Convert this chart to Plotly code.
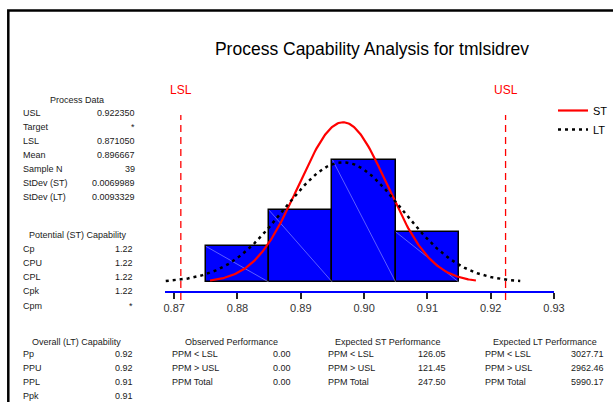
import numpy as np
import plotly.graph_objects as go

# ---------------- data ----------------
bin_centers = [0.88, 0.89, 0.90, 0.91]
bin_counts = [5, 10, 17, 7]
bin_width = 0.01

LSL = 0.871050
USL = 0.922350
mean = 0.896667
n_samples = 39
sd_st = 0.0069989
sd_lt = 0.0093329

x_ticks = [0.87, 0.88, 0.89, 0.90, 0.91, 0.92, 0.93]

process_labels = ["USL", "Target", "LSL", "Mean", "Sample N", "StDev (ST)", "StDev (LT)"]
process_values = ["0.922350", "*", "0.871050", "0.896667", "39", "0.0069989", "0.0093329"]

potential_labels = ["Cp", "CPU", "CPL", "Cpk", "Cpm"]
potential_values = ["1.22", "1.22", "1.22", "1.22", "*"]

overall_labels = ["Pp", "PPU", "PPL", "Ppk"]
overall_values = ["0.92", "0.92", "0.91", "0.91"]

observed_labels = ["PPM < LSL", "PPM > USL", "PPM Total"]
observed_values = ["0.00", "0.00", "0.00"]

exp_st_labels = ["PPM < LSL", "PPM > USL", "PPM Total"]
exp_st_values = ["126.05", "121.45", "247.50"]

exp_lt_labels = ["PPM < LSL", "PPM > USL", "PPM Total"]
exp_lt_values = ["3027.71", "2962.46", "5990.17"]

# ---------------- layout geometry (pixels) ----------------
W, H = 613, 402
ML, MR, MT, MB = 165, 59, 100, 111
PW = W - ML - MR
PH = H - MT - MB
FONT = "Liberation Sans, Arial, sans-serif"


def px(x):
    return (x - ML) / PW


def py(y):
    return (H - MB - y) / PH


def norm_curve(mu, sd):
    xs = np.linspace(mu - 3 * sd, mu + 3 * sd, 241)
    ys = n_samples * bin_width * np.exp(-0.5 * ((xs - mu) / sd) ** 2) / (sd * np.sqrt(2 * np.pi))
    return xs, ys


fig = go.Figure()

fig.add_trace(go.Bar(
    x=bin_centers, y=bin_counts, width=[bin_width] * len(bin_centers),
    marker=dict(color="#0000FF", line=dict(color="black", width=1.5)),
    showlegend=False, hoverinfo="skip",
))

# faint diagonal artefacts inside bars
dx, dy = [], []
for c, h in zip(bin_centers, bin_counts):
    dx += [c - bin_width / 2, c + bin_width / 2, None]
    dy += [h, 0, None]
fig.add_trace(go.Scatter(x=dx, y=dy, mode="lines",
                         line=dict(color="rgba(190,190,255,0.7)", width=0.7),
                         showlegend=False, hoverinfo="skip"))

xs, ys = norm_curve(mean, sd_st)
fig.add_trace(go.Scatter(x=xs, y=ys, mode="lines", name="ST",
                         line=dict(color="#FF0000", width=2.2)))
xl, yl = norm_curve(mean, sd_lt)
fig.add_trace(go.Scatter(x=xl, y=yl, mode="lines", name="LT",
                         line=dict(color="black", width=2.5, dash="3px,4px")))

shapes = []
for v in (LSL, USL):
    shapes.append(dict(type="line", xref="x", yref="paper", x0=v, x1=v,
                       y0=py(300), y1=py(115),
                       line=dict(color="#FF0000", width=1.3, dash="7px,5px")))
# outer frame
shapes.append(dict(type="rect", xref="paper", yref="paper",
                   x0=px(8.3), x1=px(700), y0=py(10.5), y1=py(480),
                   line=dict(color="black", width=2.5)))

ann = []


def text(x, y, s, anchor="left", size=9, color="#1a1a1a"):
    ann.append(dict(x=px(x), y=py(y), xref="paper", yref="paper", text=s,
                    showarrow=False, xanchor=anchor, yanchor="middle",
                    font=dict(size=size, color=color, family=FONT)))


for v, lab in ((LSL, "LSL"), (USL, "USL")):
    ann.append(dict(x=v, y=py(90), xref="x", yref="paper", text=lab,
                    showarrow=False, xanchor="center", yanchor="middle",
                    font=dict(size=12, color="#FF0000", family=FONT)))

# Process data panel
text(77, 100, "Process Data", "center")
for i, (l, v) in enumerate(zip(process_labels, process_values)):
    yy = 113.3 + i * 14.0
    text(21, yy, l)
    text(137, yy, v, "right")

# Potential capability
text(78, 235, "Potential (ST) Capability", "center")
for i, (l, v) in enumerate(zip(potential_labels, potential_values)):
    yy = [249, 263, 277, 291, 306][i]
    text(21, yy, l)
    text(135, yy, v, "right")

# bottom tables
rows_y = [354, 368, 382, 396]
cols = [
    ("Overall (LT) Capability", 76, 21, 135, overall_labels, overall_values),
    ("Observed Performance", 231, 170, 293, observed_labels, observed_values),
    ("Expected ST Performance", 387, 326, 448, exp_st_labels, exp_st_values),
    ("Expected LT Performance", 545, 483, 606, exp_lt_labels, exp_lt_values),
]
for title, cx, lx, rx, labs, vals in cols:
    text(cx, 342, title, "center")
    for i, (l, v) in enumerate(zip(labs, vals)):
        text(lx, rows_y[i], l)
        text(rx, rows_y[i], v, "right")

fig.update_layout(
    width=W, height=H,
    margin=dict(l=ML, r=MR, t=MT, b=MB, pad=0, autoexpand=False),
    paper_bgcolor="white", plot_bgcolor="white",
    bargap=0,
    font=dict(family=FONT, color="#1a1a1a"),
    title=dict(text="Process Capability Analysis for tmlsidrev",
               x=372 / W, xref="container", xanchor="center",
               y=1 - 49 / H, yref="container", yanchor="middle",
               font=dict(size=17.5, color="black", family=FONT)),
    xaxis=dict(range=[0.86855, 0.93], tickvals=x_ticks, tickformat=".2f",
               showline=True, linecolor="#0000FF", linewidth=1.5,
               ticks="outside", ticklen=6, tickwidth=1.5, tickcolor="#222",
               showgrid=False, zeroline=False,
               tickfont=dict(size=11, color="#333", family=FONT)),
    yaxis=dict(range=[-1.21, 25.32], visible=False, showgrid=False, zeroline=False),
    legend=dict(x=px(553), y=py(96), xanchor="left", yanchor="top",
                bgcolor="rgba(0,0,0,0)", font=dict(size=11, color="black", family=FONT),
                itemwidth=30, tracegroupgap=0),
    shapes=shapes,
    annotations=ann,
    showlegend=True,
)

fig.write_html("out.html", config={"displayModeBar": False},
               post_script="document.body.style.margin='0px';document.body.style.overflow='hidden';")
